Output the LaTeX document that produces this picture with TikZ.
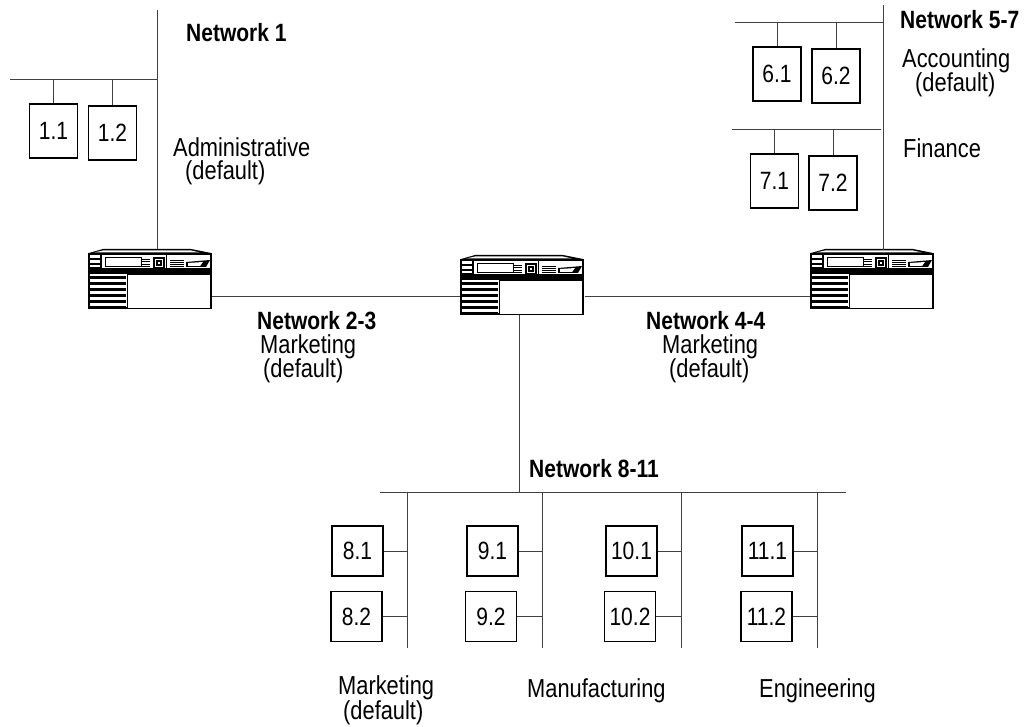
\documentclass[tikz,border=0pt]{standalone}
\usepackage{fontspec}
\setmainfont[FakeStretch=0.84]{Liberation Sans}
\usetikzlibrary{positioning}
\tikzset{x=1pt,y=-1pt,
	host/.style={draw, line width=1.1pt, fill=white, inner sep=0pt, minimum width=48pt, minimum height=54pt, font=\fontsize{25}{25}\selectfont},
	hostb/.style={host, minimum width=51pt, minimum height=50pt},
	wire/.style={line width=0.9pt, black!75},
	lab/.style={anchor=base west, inner sep=0pt, font=\fontsize{26}{26}\selectfont},
	net/.style={lab, font=\fontsize{25}{25}\selectfont\bfseries},
	server/.pic={
		\fill (0,4) -- (14,0) -- (102,0) -- (122,4) -- (122,25) -- (0,25) -- cycle;
		\fill[white] (14,1.5) -- (102,1.5) -- (111,3.5) -- (5,3.5) -- cycle;
		\fill[white] (12.5,6) rectangle (121,19);
		\draw[line width=1pt] (12,4) -- (12,20);
		\foreach \y in {6.5,11.5,16} \fill[white] (0.5,\y) rectangle (11,\y+2.5);
		\draw[line width=1pt] (16,9) rectangle (52,18);
		\foreach \y in {10,12.5,15,17.5} \draw[line width=0.9pt] (53,\y) -- (61,\y);
		\draw[line width=1.3pt] (65,9) rectangle (75,19);
		\draw[line width=1.1pt] (68,12) rectangle (72,16);
		\draw[line width=1pt] (77,6) -- (77,20);
		\foreach \y in {11,13,15,17.5} \draw[line width=0.7pt] (81,\y) -- (95,\y);
		\fill (97,13) -- (121,11) -- (117,18) -- (97,18) -- cycle;
		\fill[white] (99,14) -- (114,13) -- (111,17) -- (99,17) -- cycle;
		\draw[line width=1.2pt] (0,4) -- (0,59) -- (122,59) -- (122,4);
		\foreach \y in {27,33,39,45,51,56.5} \fill (0,\y) rectangle (37,\y+3);
		\node[draw, line width=1.2pt, fill=white, minimum width=83pt, minimum height=34pt, inner sep=0pt, anchor=north east] (-body) at (122,25) {};
	}}

\begin{document}
\begin{tikzpicture}
	\useasboundingbox (0,0) rectangle (1033,727);
	% servers
	\pic (srva) at (89,249) {server};
	\pic (srvb) at (461,255) {server};
	\pic (srvc) at (811,249) {server};
	\node[inner sep=0pt] (srvar) at (211,296) {};
	\node[inner sep=0pt] (srvbl) at (461,296) {};
	\node[inner sep=0pt] (srvbr) at (584,296) {};
	\node[inner sep=0pt] (srvcl) at (811,296) {};
	\node[inner sep=0pt] (srvbd) at (519,314) {};
	\draw[wire] (srvar) -- (srvbl);
	\draw[wire] (srvbr) -- (srvcl);
	% network 1
	\coordinate (topa) at (157.5,10);
	\coordinate (srvat) at (157.5,249);
	\coordinate (busa) at (10,79);
	\coordinate (busb) at (157.5,79);
	\draw[wire] (topa) -- (srvat);
	\draw[wire] (busa) -- (busb);
	\node[host] (h11) at (53.5,131) {1.1};
	\node[host] (h12) at (112.5,133) {1.2};
	\draw[wire] (h11) -- (h11 |- busa);
	\draw[wire] (h12) -- (h12 |- busa);
	% network 5-7
	\coordinate (topc) at (883,5);
	\coordinate (srvct) at (883,250);
	\coordinate (busc) at (735,22);
	\coordinate (busd) at (883,22);
	\coordinate (buse) at (732,129);
	\coordinate (busf) at (881,129);
	\draw[wire] (topc) -- (srvct);
	\draw[wire] (busc) -- (busd);
	\draw[wire] (buse) -- (busf);
	\node[host] (h61) at (777,74) {6.1};
	\node[host] (h62) at (836,76) {6.2};
	\node[host] (h71) at (774.5,181) {7.1};
	\node[host] (h72) at (833,183) {7.2};
	\draw[wire] (h61) -- (h61 |- busc);
	\draw[wire] (h62) -- (h62 |- busc);
	\draw[wire] (h71) -- (h71 |- buse);
	\draw[wire] (h72) -- (h72 |- buse);
	% network 8-11
	\coordinate (busg) at (380,492);
	\coordinate (bush) at (846,492);
	\draw[wire] (busg) -- (bush);
	\draw[wire] (srvbd) -- (srvbd |- busg);
	\foreach \n/\x/\xa/\xb in {8/407/357.5/356.5, 9/542/492.5/491, 10/681/631.5/630, 11/817/767.5/766.5} {
		\coordinate (top\n) at (\x,492);
		\coordinate (end\n) at (\x,648);
		\draw[wire] (top\n) -- (end\n);
		\node[hostb] (h\n a) at (\xa,551) {\n.1};
		\node[hostb] (h\n b) at (\xb,616.5) {\n.2};
		\draw[wire] (h\n a) -- (h\n a -| top\n);
		\draw[wire] (h\n b) -- (h\n b -| top\n);
	}
	% labels
	\node[net] (t1) at (186,42) {Network 1};
	\node[lab] (t1a) at (173,157) {Administrative};
	\node[lab] (t1b) at (185,180) {(default)};
	\node[net] (t5) at (900,29) {Network 5-7};
	\node[lab] (t5a) at (902,68) {Accounting};
	\node[lab] (t5b) at (915,92) {(default)};
	\node[lab] (t7) at (903,158) {Finance};
	\node[net] (t2) at (257,329) {Network 2-3};
	\node[lab] (t2a) at (260,353) {Marketing};
	\node[lab] (t2b) at (263,377) {(default)};
	\node[net] (t4) at (646,329) {Network 4-4};
	\node[lab] (t4a) at (662,353) {Marketing};
	\node[lab] (t4b) at (669,377) {(default)};
	\node[net] (t8) at (529,477) {Network 8-11};
	\node[lab] (t8a) at (338,694) {Marketing};
	\node[lab] (t8b) at (343,719) {(default)};
	\node[lab] (t9) at (527,697) {Manufacturing};
	\node[lab] (t10) at (759,697) {Engineering};
\end{tikzpicture}
\end{document}
